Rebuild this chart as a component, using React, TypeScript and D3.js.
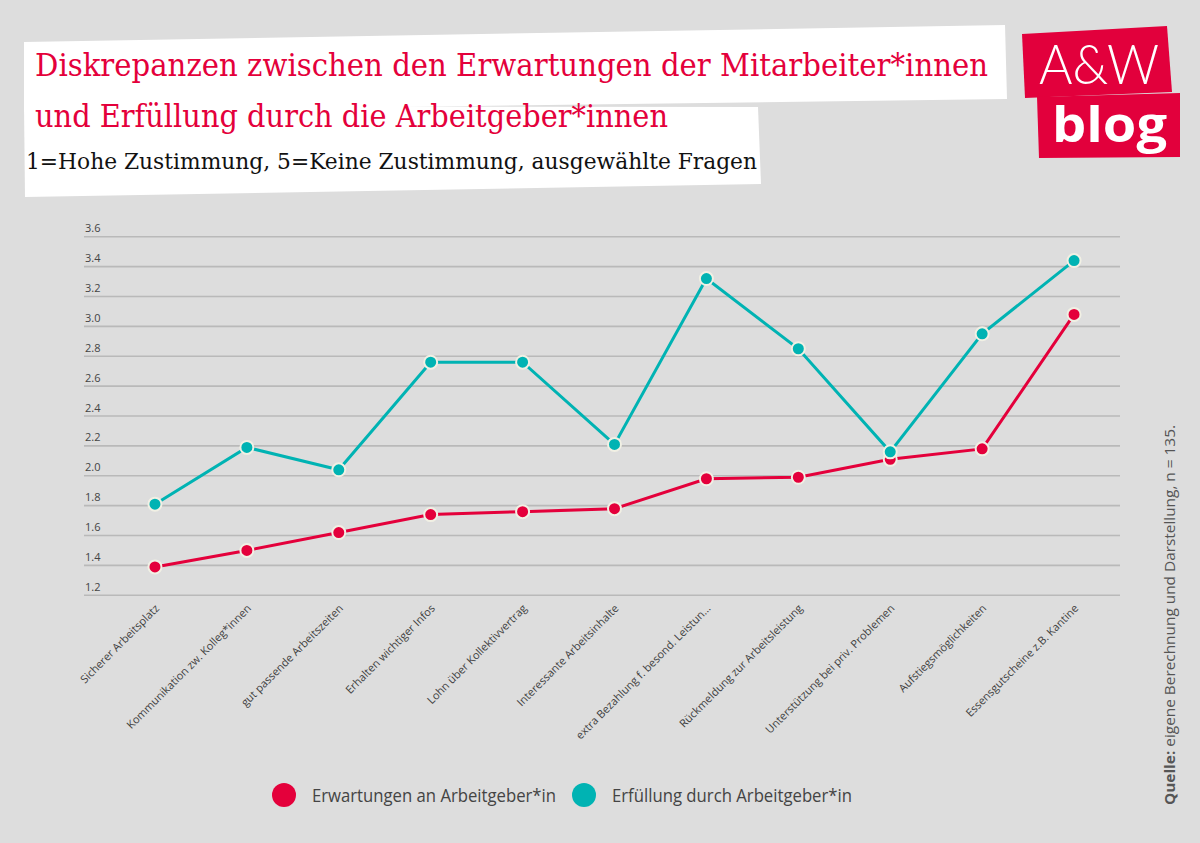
import React from "react";
import * as d3 from "d3";

const categories = [
  "Sicherer Arbeitsplatz",
  "Kommunikation zw. Kolleg*innen",
  "gut passende Arbeitszeiten",
  "Erhalten wichtiger Infos",
  "Lohn über Kollektivvertrag",
  "Interessante Arbeitsinhalte",
  "extra Bezahlung f. besond. Leistun...",
  "Rückmeldung zur Arbeitsleistung",
  "Unterstützung bei priv. Problemen",
  "Aufstiegsmöglichkeiten",
  "Essensgutscheine z.B. Kantine",
];

const erwartungen = [1.39, 1.5, 1.62, 1.74, 1.76, 1.78, 1.98, 1.99, 2.11, 2.18, 3.08];
const erfuellung = [1.81, 2.19, 2.04, 2.76, 2.76, 2.21, 3.32, 2.85, 2.16, 2.95, 3.44];

const yTicks = [1.2, 1.4, 1.6, 1.8, 2.0, 2.2, 2.4, 2.6, 2.8, 3.0, 3.2, 3.4, 3.6];

const seriesNames = ["Erwartungen an Arbeitgeber*in", "Erfüllung durch Arbeitgeber*in"];

const RED = "#e4003b";
const TEAL = "#00b3b3";
const BG = "#dddddd";

export default function App() {
  const W = 1200;
  const H = 843;

  const x = d3.scalePoint<string>().domain(categories).range([109, 1120]).padding(0.5);
  const y = d3.scaleLinear().domain([1.2, 3.6]).range([595.3, 236.7]);

  const line = d3
    .line<number>()
    .x((_, i) => x(categories[i]) as number)
    .y((d) => y(d));

  const series = [
    { name: seriesNames[0], values: erwartungen, color: RED },
    { name: seriesNames[1], values: erfuellung, color: TEAL },
  ];

  const slab = "'DejaVu Serif', 'Liberation Serif', serif";
  const sans = "'Open Sans', 'Noto Sans', sans-serif";

  return (
    <svg
      width={W}
      height={H}
      viewBox={`0 0 ${W} ${H}`}
      style={{ position: "absolute", left: 0, top: 0, display: "block" }}
    >
      <rect x={0} y={0} width={W} height={H} fill={BG} />

      {/* title boxes */}
      <polygon points="24,42 1005,25 1007,99 24,112" fill="#ffffff" />
      <polygon points="24,106 758,107 761,184 25,197" fill="#ffffff" />

      <text
        x={35}
        y={76}
        fill={RED}
        fontFamily={slab}
        fontSize={31}
        textLength={953}
        lengthAdjust="spacingAndGlyphs"
      >
        Diskrepanzen zwischen den Erwartungen der Mitarbeiter*innen
      </text>
      <text
        x={35}
        y={127}
        fill={RED}
        fontFamily={slab}
        fontSize={31}
        textLength={633}
        lengthAdjust="spacingAndGlyphs"
      >
        und Erfüllung durch die Arbeitgeber*innen
      </text>
      <text
        x={26}
        y={169}
        fill="#111111"
        fontFamily={slab}
        fontSize={23}
        textLength={731}
        lengthAdjust="spacingAndGlyphs"
      >
        1=Hohe Zustimmung, 5=Keine Zustimmung, ausgewählte Fragen
      </text>

      {/* logo */}
      <polygon points="1022,34 1167,26 1172,92 1025,98" fill="#e2003c" />
      <polygon points="1037,97 1180,93 1180,157 1039,158" fill="#e2003c" />
      <text
        x={1039}
        y={84}
        fill="#ffffff"
        fontFamily="Lato, 'Open Sans', sans-serif"
        fontWeight={300}
        fontSize={56}
        textLength={120}
        lengthAdjust="spacingAndGlyphs"
      >
        A&amp;W
      </text>
      <text
        x={1052}
        y={142}
        fill="#ffffff"
        fontFamily="'Open Sans', Lato, sans-serif"
        fontWeight={700}
        fontSize={48}
        textLength={115}
        lengthAdjust="spacingAndGlyphs"
      >
        blog
      </text>

      {/* grid + y labels */}
      {yTicks.map((t) => (
        <g key={t}>
          <line x1={84} x2={1120} y1={y(t)} y2={y(t)} stroke="#b9b9b9" strokeWidth={1.6} />
          <text x={85} y={y(t) - 4.5} fontFamily={sans} fontSize={11} fill="#444444">
            {t.toFixed(1)}
          </text>
        </g>
      ))}

      {/* x labels */}
      {categories.map((c) => (
        <text
          key={c}
          transform={`translate(${(x(c) as number) + 5},${609}) rotate(-45)`}
          textAnchor="end"
          fontFamily={sans}
          fontSize={11}
          fill="#3f3f3f"
        >
          {c}
        </text>
      ))}

      {/* lines */}
      {series.map((s) => (
        <path key={s.name} d={line(s.values) || ""} fill="none" stroke={s.color} strokeWidth={3} />
      ))}
      {series.map((s) =>
        s.values.map((v, i) => (
          <circle
            key={s.name + i}
            cx={x(categories[i]) as number}
            cy={y(v)}
            r={6.5}
            fill={s.color}
            stroke="#f1f0e4"
            strokeWidth={2}
          />
        ))
      )}

      {/* legend */}
      <circle cx={284} cy={795} r={12} fill={RED} />
      <text
        x={312}
        y={802}
        fontFamily={sans}
        fontSize={19}
        fill="#444444"
        textLength={244}
        lengthAdjust="spacingAndGlyphs"
      >
        {seriesNames[0]}
      </text>
      <circle cx={584} cy={795} r={12} fill={TEAL} />
      <text
        x={612}
        y={802}
        fontFamily={sans}
        fontSize={19}
        fill="#444444"
        textLength={240}
        lengthAdjust="spacingAndGlyphs"
      >
        {seriesNames[1]}
      </text>

      {/* source */}
      <text
        transform="translate(1175,805) rotate(-90)"
        fontFamily={sans}
        fontSize={15}
        fill="#555555"
        textLength={380}
        lengthAdjust="spacingAndGlyphs"
      >
        <tspan fontWeight={700}>Quelle:</tspan> eigene Berechnung und Darstellung, n = 135.
      </text>
    </svg>
  );
}
